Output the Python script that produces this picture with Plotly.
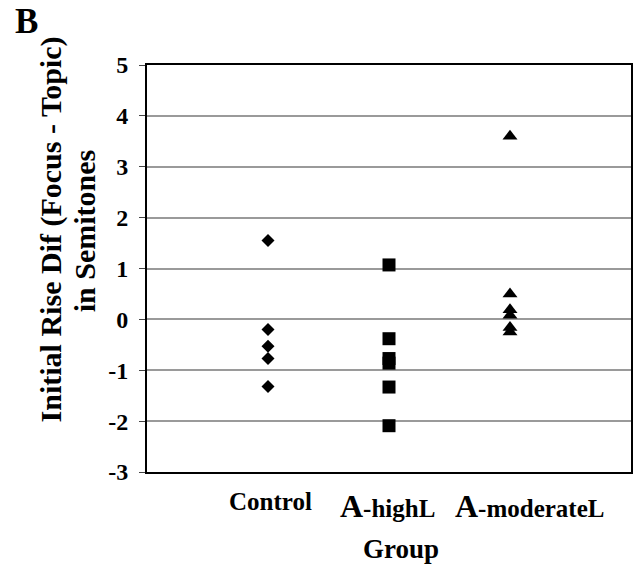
import plotly.graph_objects as go

FONT = "Liberation Serif, Times New Roman, serif"

categories = ["Control", "A-highL", "A-moderateL"]
cat_pos = [1, 2, 3]
control_vals = [1.55, -0.20, -0.53, -0.77, -1.32]
highl_vals = [1.07, -0.38, -0.77, -0.86, -1.33, -2.09]
moderatel_vals = [3.60, 0.50, 0.19, 0.08, -0.16, -0.25]
y_ticks = [5, 4, 3, 2, 1, 0, -1, -2, -3]
y_title_lines = ["Initial Rise Dif (Focus - Topic)", "in Semitones"]

series = [
    (control_vals, cat_pos[0], "diamond", 10),
    (highl_vals, cat_pos[1], "square", 13),
    (moderatel_vals, cat_pos[2], "triangle-up", 13),
]

W, H = 638, 564
L, R, T, B = 147, 5, 65, 92
pw, ph = W - L - R, H - T - B


def px_to_paper(x, y):
    """window pixel -> paper coordinates"""
    return (x - L) / pw, (H - B - y) / ph


fig = go.Figure()
for vals, pos, sym, sz in series:
    fig.add_trace(go.Scatter(
        x=[pos] * len(vals), y=vals, mode="markers",
        marker=dict(symbol=sym, size=sz, color="black", line=dict(width=0)),
        showlegend=False, cliponaxis=False,
    ))

fig.update_layout(
    width=W, height=H,
    margin=dict(l=L, r=R, t=T, b=B),
    paper_bgcolor="white", plot_bgcolor="white",
    font=dict(family=FONT, color="black"),
    showlegend=False,
)
fig.update_xaxes(
    range=[0, 4], showticklabels=False, showgrid=False, zeroline=False,
    showline=True, linecolor="black", linewidth=2, mirror=True, ticks="",
)
fig.update_yaxes(
    range=[-3, 5], tickvals=y_ticks, ticktext=[str(v) for v in y_ticks],
    showgrid=True, gridcolor="#9a9a9a", gridwidth=1.5, zeroline=False,
    showline=True, linecolor="black", linewidth=2, mirror=True,
    ticks="outside", ticklen=6, tickwidth=1, tickcolor="#444",
    tickfont=dict(family=FONT, size=24, color="black", weight="bold"),
    ticklabelstandoff=6,
)

# category labels (leading "A" drawn larger, as in the reference)
label_shift = [2, -2, 19]
for name, pos, sh in zip(categories, cat_pos, label_shift):
    if name.startswith("A-"):
        txt = "<span style='font-size:32px'>A</span>" + name[1:]
    else:
        txt = name
    fig.add_annotation(
        x=pos, y=0, xref="x", yref="paper", xshift=sh, yshift=-14,
        xanchor="center", yanchor="top",
        text="<b>" + txt + "</b>", showarrow=False,
        font=dict(family=FONT, size=25, color="black"),
    )

gx, gy = px_to_paper(402, 549)
fig.add_annotation(
    x=gx, y=gy, xref="paper", yref="paper", xanchor="center", yanchor="middle",
    text="<b>Group</b>", showarrow=False,
    font=dict(family=FONT, size=27, color="black"),
)
for line, (lx, ly) in zip(y_title_lines, [(51, 229), (84, 231)]):
    tx, ty = px_to_paper(lx, ly)
    fig.add_annotation(
        x=tx, y=ty, xref="paper", yref="paper", xanchor="center", yanchor="middle",
        text="<b>" + line + "</b>", showarrow=False, textangle=-90,
        font=dict(family=FONT, size=30, color="black"),
    )
bx, by = px_to_paper(26, 21)
fig.add_annotation(
    x=bx, y=by, xref="paper", yref="paper", xanchor="center", yanchor="middle",
    text="<b>B</b>", showarrow=False,
    font=dict(family=FONT, size=35, color="black"),
)

# remove the default 8px page margin so the figure sits at the window origin
fig.write_html(
    "out.html",
    config={"displayModeBar": False},
    post_script="document.body.style.margin='0';document.body.style.overflow='hidden';",
)
